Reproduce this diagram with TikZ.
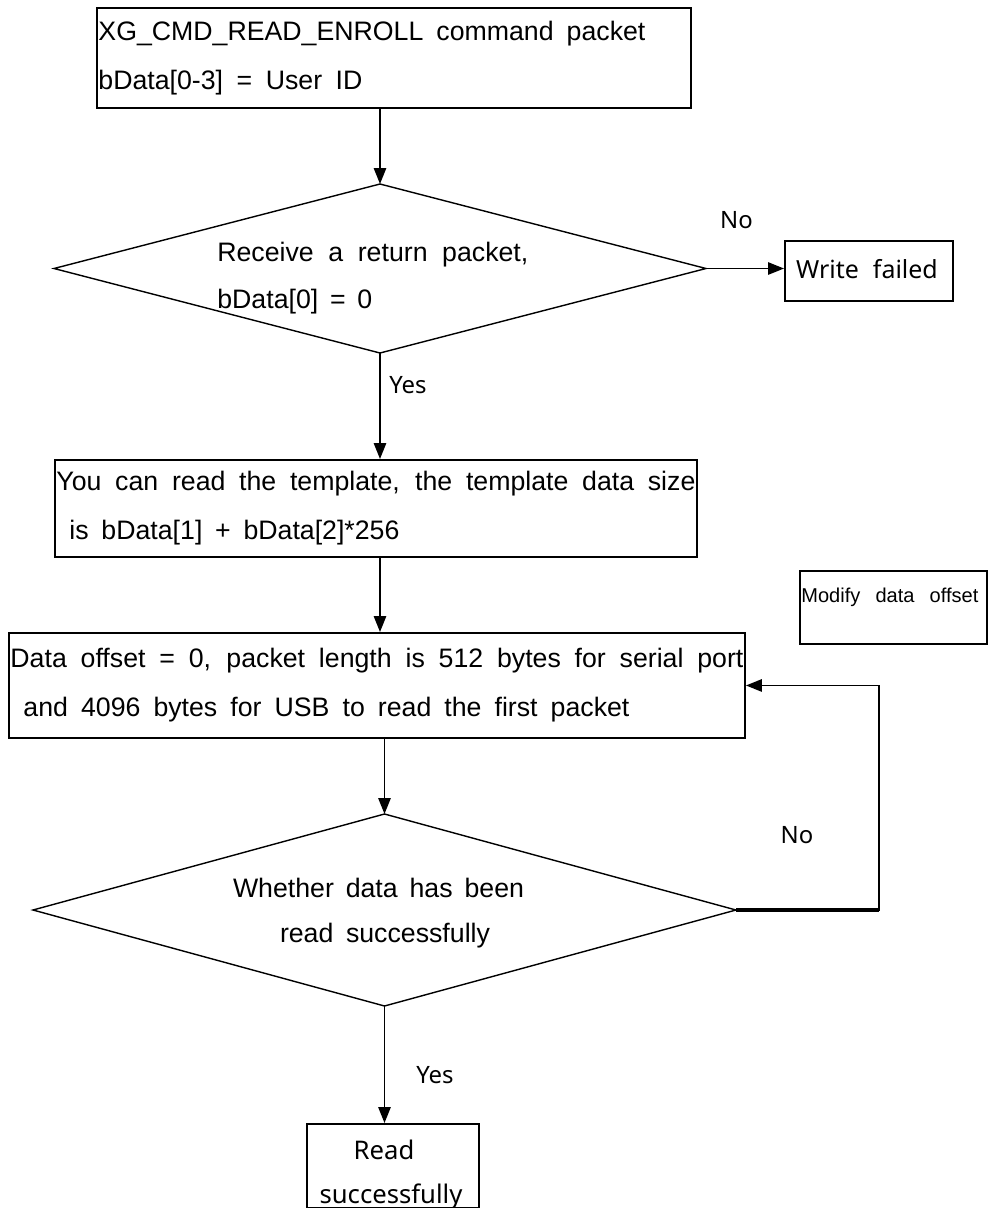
\documentclass[tikz,border=0pt]{standalone}
\usepackage{fontspec}
\setmainfont{Liberation Sans}
\newfontfamily\labelfont{Noto Sans}
\usetikzlibrary{shapes.geometric,arrows.meta}
\newlength\pxu
\setlength\pxu{0.02cm}
\newsavebox\fitbox
% one line of text set to a given width (in pixel units): the word spaces
% are stretched when the line is short, the line is narrowed when it is long
\newcommand\fitline[2]{%
  \sbox\fitbox{#2}%
  \ifdim\wd\fitbox>#1\pxu
    \resizebox{#1\pxu}{\height}{\usebox\fitbox}%
  \else
    \makebox[#1\pxu][s]{\spaceskip=0pt\xspaceskip=0pt #2}%
  \fi}

\begin{document}
\begin{tikzpicture}[x=0.02cm,y=-0.02cm,
  bodytext/.style={font=\fontsize{15.2}{27.9}\selectfont},
  stepbox/.style={draw, rectangle, line width=1.1pt, anchor=north west,
    inner xsep=1.5\pxu, inner ysep=0pt, align=left, bodytext},
  plainbox/.style={draw, rectangle, line width=1.1pt, anchor=north west, inner sep=0pt},
  decision/.style={draw, diamond, line width=0.8pt, inner sep=0pt, outer sep=0pt},
  txt/.style={inner sep=0pt, bodytext},
  lbl/.style={inner sep=0pt, font=\labelfont\fontsize{13.6}{16}\selectfont},
  arr/.style={-{Triangle[length=9pt,width=7pt]}, line width=0.8pt},
]
\useasboundingbox (0,0) rectangle (988,1208);
\clip (0,0) rectangle (988,1208);

% command box
\node[stepbox, minimum width=594\pxu, minimum height=100\pxu, text width=591\pxu] (cmd) at (96,7)
  {\fitline{547}{XG\_CMD\_READ\_ENROLL command packet}\\
   \fitline{264}{bData[0-3] = User ID}};

% first decision
\node[decision, minimum width=652\pxu, minimum height=169\pxu] (d1) at (380,268.5) {};
\node[txt, anchor=west] (d1a) at (217,255) {\fitline{311}{Receive a return packet,}};
\node[txt, anchor=west] (d1b) at (217,302) {\fitline{155}{bData[0] = 0}};

% failure box
\node[plainbox, minimum width=168\pxu, minimum height=60\pxu] (wf) at (784,240) {};
\node[lbl, font=\labelfont\fontsize{14.2}{16}\selectfont] (wft) at (867,269) {Write\hspace{0.3em} failed};

% template box
\node[stepbox, minimum width=642\pxu, minimum height=97\pxu, text width=639\pxu] (tpl) at (54,459)
  {\fitline{639}{You can read the template, the template data size}\\
   \hspace*{13\pxu}\fitline{330}{is bData[1] + bData[2]*256}};

% offset note
\node[plainbox, minimum width=187\pxu, minimum height=73\pxu] (mod) at (799,570) {};
\node[txt, anchor=west, font=\fontsize{11.4}{14}\selectfont] (modt) at (801,597)
  {\fitline{177}{Modify data offset}};

% first packet box
\node[stepbox, minimum width=736\pxu, minimum height=105\pxu, text width=733\pxu] (pkt) at (8,632)
  {\fitline{733}{Data offset = 0, packet length is 512 bytes for serial port}\\
   \hspace*{13\pxu}\fitline{606}{and 4096 bytes for USB to read the first packet}};

% second decision
\node[decision, minimum width=703\pxu, minimum height=192\pxu] (d2) at (384.5,910) {};
\node[txt] (d2a) at (378.5,888) {\fitline{291}{Whether data has been}};
\node[txt] (d2b) at (385,936) {\fitline{210}{read successfully}};

% result box
\node[plainbox, minimum width=172\pxu, minimum height=84\pxu] (rd) at (306,1123) {};
\node[lbl, font=\labelfont\fontsize{14.6}{16}\selectfont] (rda) at (384,1150) {Read};
\node[lbl, font=\labelfont\fontsize{14.6}{16}\selectfont] (rdb) at (391,1197) {successfully};

% connectors
\coordinate (loopx) at (879,0);
\draw[arr] (d1.north |- cmd.south) -- (d1.north);
\draw[arr] (d1.east) -- (d1.east -| wf.west);
\draw[arr] (d1.south) -- (d1.south |- tpl.north);
\draw[arr] (d1.south |- tpl.south) -- (d1.south |- pkt.north);
\draw[arr] (d2.north |- pkt.south) -- (d2.north);
\draw[arr] (d2.south) -- (d2.south |- rd.north);
\draw[arr] (d2.east) -- (d2.east -| loopx) |- (pkt.east);
\draw[line width=1.8pt] (d2.east) -- (d2.east -| loopx);

% branch labels
\node[lbl] (no1) at (736.5,220) {No};
\node[lbl] (yes1) at (408,385) {Yes};
\node[lbl] (no2) at (797,835) {No};
\node[lbl] (yes2) at (435,1075) {Yes};
\end{tikzpicture}
\end{document}
